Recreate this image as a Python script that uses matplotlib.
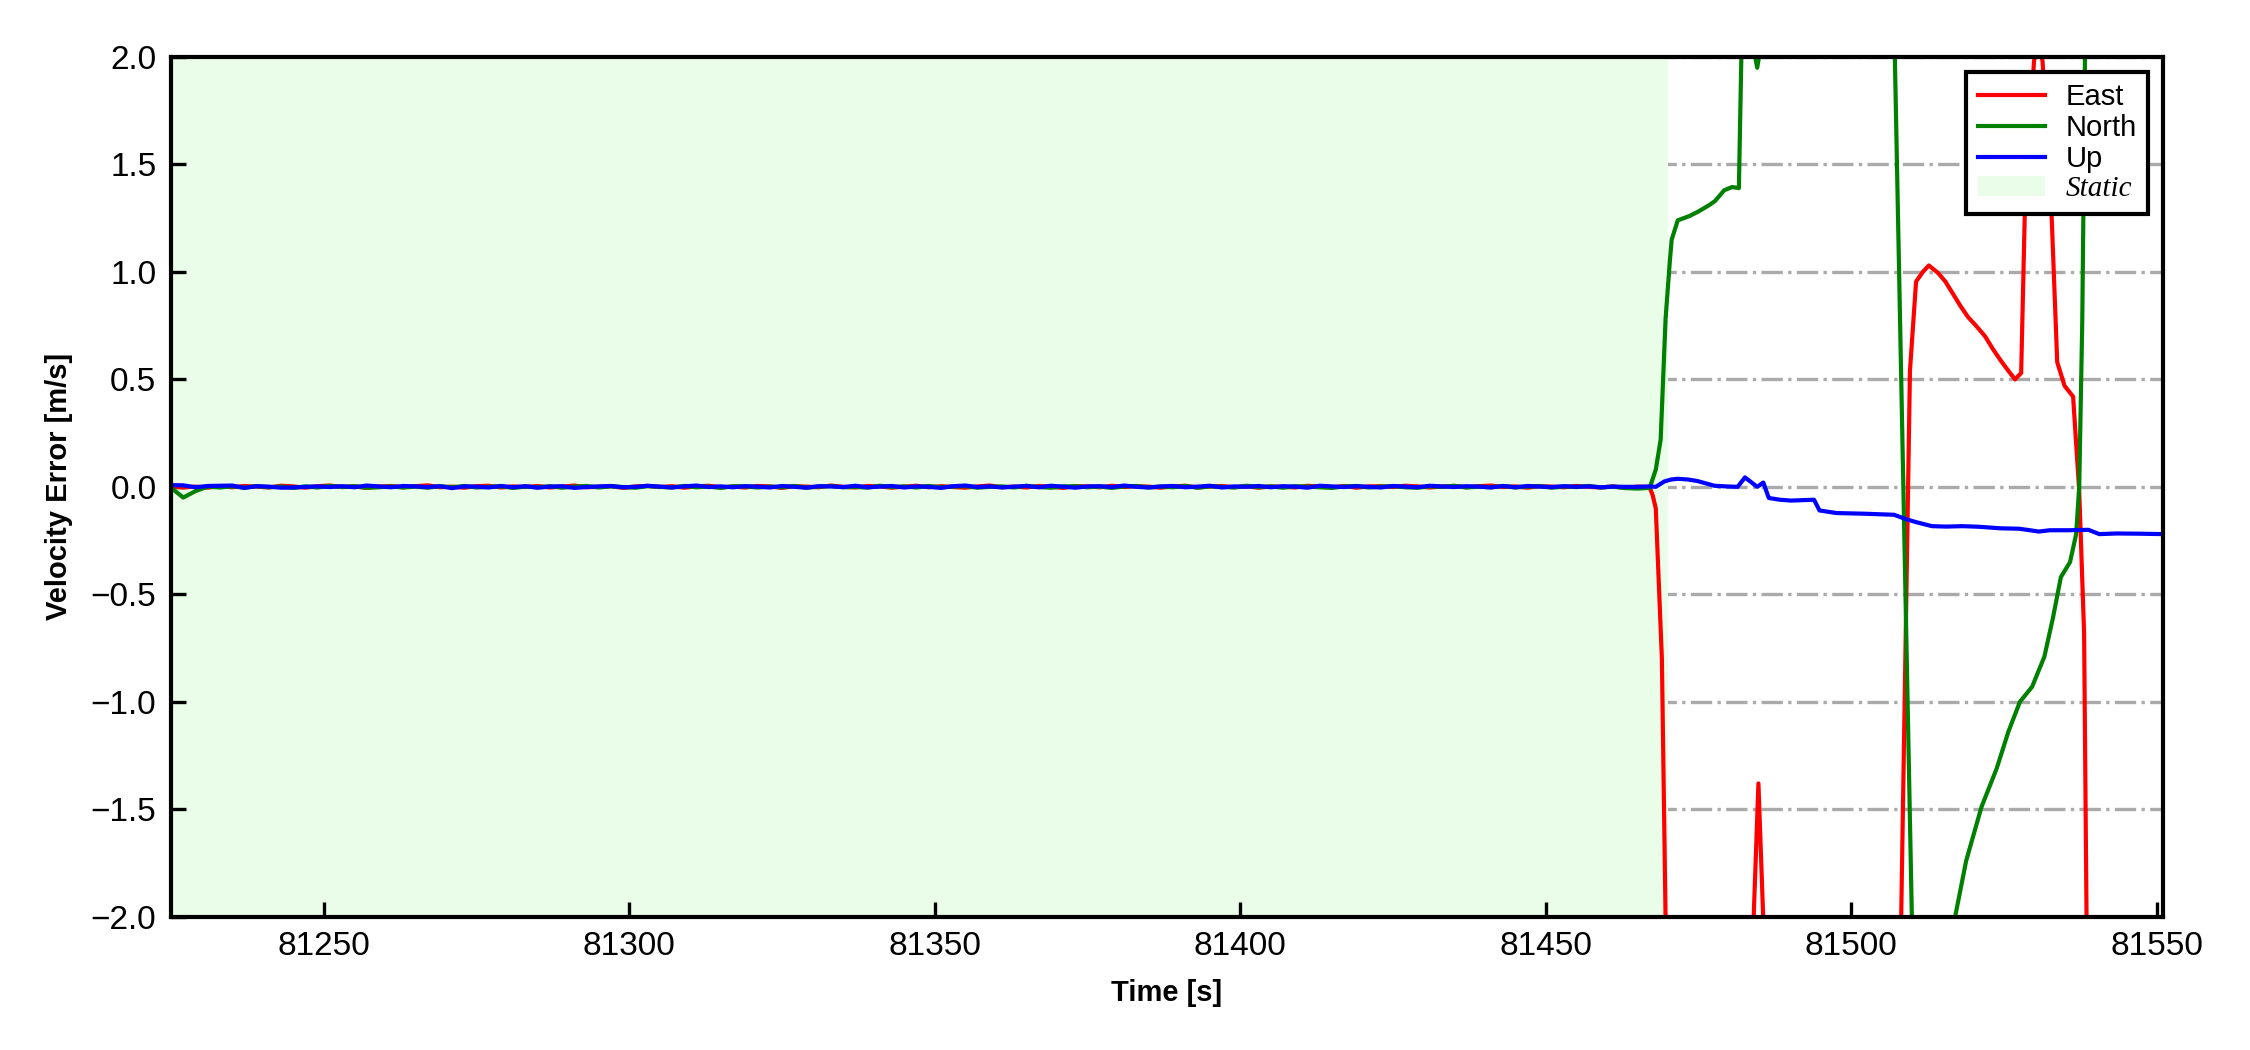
import numpy as np
import matplotlib
matplotlib.use('Agg')
import matplotlib.pyplot as plt

plt.rcParams['font.family'] = ['Liberation Sans', 'DejaVu Sans']

# static period, sampled every 2 s (81225 ... 81467)
t_static = np.arange(81225, 81468, 2)

east_static = [0.002, -0.003, 0.001, -0.004, 0.003, -0.002, 0.004, 0.001, -0.003, 0.005,
               0.002, -0.004, 0.003, 0.006, -0.001, 0.002, -0.005, 0.001, 0.004, -0.002,
               0.003, 0.007, -0.002, 0.001, -0.004, 0.003, 0.005, -0.003, 0.002, -0.001,
               0.004, -0.003, 0.001, 0.006, -0.002, 0.000, 0.003, -0.005, 0.002, 0.004,
               -0.001, 0.003, -0.004, 0.002, 0.005, -0.002, 0.001, -0.003, 0.004, 0.002,
               -0.005, 0.003, 0.001, -0.002, 0.006, 0.000, -0.003, 0.004, 0.002, -0.004,
               0.001, 0.005, -0.002, 0.003, -0.001, -0.004, 0.002, 0.006, -0.002, 0.001,
               -0.003, 0.004, 0.000, -0.005, 0.003, 0.002, -0.002, 0.005, -0.001, 0.003,
               0.001, -0.004, 0.002, 0.005, -0.003, 0.001, 0.004, -0.002, 0.003, -0.004,
               0.002, 0.000, -0.003, 0.005, 0.001, -0.002, 0.004, -0.004, 0.002, 0.003,
               -0.001, 0.005, 0.002, -0.003, 0.001, 0.004, -0.002, 0.003, 0.006, -0.001,
               0.002, -0.004, 0.003, 0.001, -0.002, 0.004, 0.000, -0.003, 0.002, -0.005,
               0.001, -0.002]

north_static = [-0.004, -0.050, -0.020, 0.001, -0.003, 0.002, -0.004, 0.003, -0.002, 0.001,
                -0.005, 0.002, -0.003, 0.004, -0.001, 0.003, -0.004, -0.002, 0.002, -0.003,
                0.001, -0.004, 0.003, -0.002, 0.004, -0.003, 0.000, 0.002, -0.005, 0.001,
                -0.002, 0.003, -0.004, 0.001, 0.004, -0.003, 0.002, -0.001, -0.004, 0.003,
                0.000, -0.003, 0.004, -0.002, 0.001, -0.005, 0.003, 0.002, -0.003, 0.001,
                -0.002, 0.004, -0.004, 0.001, 0.003, -0.002, 0.000, -0.004, 0.005, -0.001,
                0.002, -0.003, 0.004, -0.002, 0.001, 0.003, -0.004, 0.000, 0.002, -0.003,
                0.005, -0.001, -0.004, 0.002, 0.003, -0.002, 0.001, -0.005, 0.002, 0.004,
                -0.003, 0.001, -0.002, 0.004, -0.004, 0.002, 0.000, -0.003, 0.005, -0.001,
                0.002, -0.004, 0.003, 0.001, -0.002, -0.005, 0.002, 0.004, -0.003, 0.001,
                0.003, -0.002, -0.004, 0.002, 0.000, 0.005, -0.003, 0.001, -0.002, 0.004,
                -0.003, 0.001, 0.003, -0.004, 0.002, -0.001, 0.004, -0.003, 0.001, -0.006,
                -0.008, -0.005]

up_static = [0.008, 0.007, -0.002, 0.004, 0.005, 0.006, -0.005, 0.003, 0.001, -0.004,
             -0.003, 0.000, 0.002, -0.001, 0.003, -0.002, 0.006, 0.002, -0.002, 0.004,
             0.002, -0.001, 0.003, -0.006, 0.002, 0.001, -0.003, 0.004, -0.002, 0.003,
             -0.004, 0.001, 0.003, -0.005, -0.001, 0.002, 0.004, -0.002, 0.000, 0.005,
             0.001, -0.003, 0.002, 0.006, -0.001, 0.002, -0.002, 0.003, 0.001, -0.003,
             0.004, 0.000, -0.004, 0.003, 0.002, -0.001, 0.005, -0.002, 0.001, 0.004,
             -0.003, 0.002, 0.000, -0.005, 0.003, 0.006, -0.001, 0.002, -0.003, 0.001,
             0.004, -0.002, 0.005, 0.001, -0.004, 0.002, 0.003, -0.001, 0.006, 0.000,
             -0.003, 0.002, 0.004, -0.002, 0.001, 0.005, -0.003, 0.002, 0.000, 0.004,
             -0.002, 0.003, 0.001, -0.004, 0.005, 0.002, -0.001, 0.003, 0.000, -0.003,
             0.004, 0.001, -0.002, 0.005, 0.002, -0.001, 0.003, 0.001, -0.003, 0.004,
             -0.002, 0.004, 0.001, -0.001, 0.003, 0.000, 0.002, -0.002, 0.001, 0.000,
             0.000, 0.002]

# after the static period
t_east = [81467.5, 81468.0, 81469.0, 81470.0, 81477.0, 81483.9, 81484.8, 81485.7, 81496.0,
          81507.6, 81509.6, 81510.6, 81511.7, 81512.7, 81514.2, 81515.4, 81516.6, 81517.9,
          81519.1, 81520.4, 81521.9, 81523.2, 81524.4, 81525.7, 81526.8, 81527.8, 81528.4,
          81529.9, 81530.6, 81531.3, 81532.8, 81533.7, 81534.9, 81536.3, 81537.3, 81538.1,
          81538.8, 81545.0, 81551.0]
east_dyn = [-0.04, -0.10, -0.80, -2.80, -3.20, -2.10, -1.38, -2.10, -3.40,
            -3.00, 0.54, 0.955, 1.00, 1.03, 0.995, 0.955, 0.90, 0.84,
            0.79, 0.75, 0.70, 0.64, 0.59, 0.54, 0.50, 0.53, 1.28,
            1.98, 2.08, 1.98, 1.25, 0.58, 0.47, 0.42, -0.02, -0.68,
            -3.00, -3.40, -3.20]

t_north = [81468.0, 81468.8, 81469.6, 81470.3, 81470.6, 81471.6, 81473.5, 81474.9, 81476.7,
           81477.7, 81479.2, 81480.5, 81481.6, 81482.6, 81483.6, 81484.6, 81485.6, 81495.0,
           81506.5, 81510.5, 81514.0, 81516.3, 81518.8, 81521.3, 81523.8, 81525.7, 81527.6,
           81529.6, 81531.6, 81533.0, 81534.3, 81535.8, 81536.8, 81537.3, 81537.8, 81538.6,
           81545.0, 81551.0]
north_dyn = [0.08, 0.22, 0.78, 1.05, 1.15, 1.24, 1.26, 1.28, 1.31,
             1.33, 1.38, 1.395, 1.39, 2.90, 2.10, 1.95, 2.12, 3.60,
             2.90, -2.85, -3.10, -2.10, -1.74, -1.49, -1.31, -1.14, -1.00,
             -0.93, -0.79, -0.61, -0.42, -0.35, -0.22, 0.00, 0.77, 3.00,
             3.50, 3.30]

t_up = [81468.0, 81469.4, 81470.5, 81471.6, 81473.3, 81474.8, 81476.3, 81477.6, 81479.5,
        81481.4, 81482.6, 81484.6, 81485.6, 81486.5, 81488.3, 81490.1, 81493.9, 81494.8,
        81497.6, 81502.0, 81507.0, 81508.9, 81510.7, 81513.2, 81515.5, 81518.2, 81521.0,
        81524.4, 81527.5, 81530.7, 81532.5, 81535.5, 81538.8, 81540.6, 81543.5, 81547.0,
        81551.0]
up_dyn = [0.000, 0.025, 0.034, 0.0375, 0.034, 0.027, 0.015, 0.005, 0.002,
          0.000, 0.044, 0.000, 0.020, -0.052, -0.060, -0.064, -0.060, -0.110,
          -0.122, -0.125, -0.130, -0.150, -0.165, -0.183, -0.185, -0.183, -0.186,
          -0.193, -0.195, -0.208, -0.202, -0.202, -0.200, -0.220, -0.217, -0.218,
          -0.220]

static_end = 81470
yticks = [-2.0, -1.5, -1.0, -0.5, 0.0, 0.5, 1.0, 1.5, 2.0]
xticks = [81250, 81300, 81350, 81400, 81450, 81500, 81550]

te = np.concatenate([t_static, t_east]); ve = np.concatenate([east_static, east_dyn])
tn = np.concatenate([t_static, t_north]); vn = np.concatenate([north_static, north_dyn])
tu = np.concatenate([t_static, t_up]); vu = np.concatenate([up_static, up_dyn])

fig = plt.figure(figsize=(7.5, 3.5), dpi=300)
ax = fig.add_axes([0.076, 0.127, 0.8853, 0.8187])

# grid under the static shading, ticks above it
for y in yticks:
    ax.axhline(y, ls='-.', color='#aaaaaa', lw=0.8, zorder=0.8)
span = ax.axvspan(t_static[0], static_end, color='#e9fde9', lw=0, zorder=1)
l1, = ax.plot(te, ve, color='red', lw=1.0, zorder=2)
l2, = ax.plot(tn, vn, color='green', lw=1.0, zorder=2)
l3, = ax.plot(tu, vu, color='blue', lw=1.0, zorder=2)

ax.set_xlim(t_static[0], t_up[-1])
ax.set_ylim(-2, 2)
ax.set_yticks(yticks)
ax.set_xticks(xticks)

ax.tick_params(direction='in', labelsize=8, width=0.8, length=3.5)
for s in ax.spines.values():
    s.set_linewidth(1.0)
    s.set_zorder(3)

ax.set_xlabel('Time [s]', fontsize=7, fontweight='bold')
ax.set_ylabel('Velocity Error [m/s]', fontsize=7, fontweight='bold')
ax.xaxis.set_label_coords(0.5, -0.072)
ax.yaxis.set_label_coords(-0.049, 0.5)

leg = ax.legend([l1, l2, l3, span], ['East', 'North', 'Up', 'Static'],
                loc='upper right', fontsize=7, fancybox=False, edgecolor='black',
                framealpha=1, labelspacing=0.1, borderaxespad=0.5,
                handlelength=2.3, handletextpad=0.7)
leg.get_frame().set_linewidth(1.0)
st = leg.get_texts()[3]
st.set_fontfamily(['Liberation Serif', 'DejaVu Serif'])
st.set_fontstyle('italic')

fig.savefig('out.png', dpi=300)
